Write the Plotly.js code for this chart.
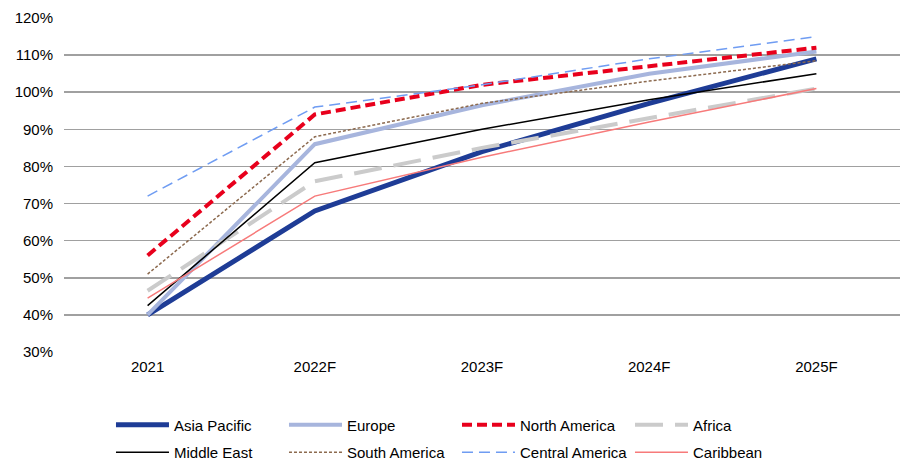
<!DOCTYPE html>
<html><head><meta charset="utf-8">
<script src="https://cdn.plot.ly/plotly-3.0.1.min.js"></script>
<style>html,body{margin:0;padding:0;background:#fff}#chart{width:909px;height:465px}</style>
</head><body><div id="chart"></div>
<script>
const categories = ["2021", "2022F", "2023F", "2024F", "2025F"];
const asiaPacific = [40, 68, 84, 97, 109];
const europe = [40, 86, 96.5, 105, 111];
const northAmerica = [56, 94, 102, 107, 112];
const africa = [46.5, 76, 85, 93, 101];
const middleEast = [42.5, 81, 90, 98, 105];
const southAmerica = [51, 88, 97, 103, 108.5];
const centralAmerica = [72, 96, 102, 109, 115];
const caribbean = [44.5, 72, 82.5, 92, 101];
const yTicks = [30, 40, 50, 60, 70, 80, 90, 100, 110, 120];
const yTickText = yTicks.map(v => v + "%");

const series = [
  {name: "Asia Pacific", y: asiaPacific, color: "#1e3c96", width: 5, dash: "solid", legend: "legend"},
  {name: "Europe", y: europe, color: "#a7b5dd", width: 4, dash: "solid", legend: "legend"},
  {name: "North America", y: northAmerica, color: "#e8001c", width: 4, dash: "10px,5px", legend: "legend"},
  {name: "Africa", y: africa, color: "#cbcbcb", width: 4, dash: "28px,12px", legend: "legend"},
  {name: "Middle East", y: middleEast, color: "#000000", width: 1.5, dash: "solid", legend: "legend2"},
  {name: "South America", y: southAmerica, color: "#8c6a4f", width: 1.5, dash: "3px,2px", legend: "legend2"},
  {name: "Central America", y: centralAmerica, color: "#6f9cf2", width: 1.5, dash: "11px,6px", legend: "legend2"},
  {name: "Caribbean", y: caribbean, color: "#f77a7a", width: 1.5, dash: "solid", legend: "legend2"}
];

const data = series.map(s => ({
  type: "scatter", mode: "lines", name: s.name, x: categories, y: s.y, legend: s.legend,
  line: {color: s.color, width: s.width, dash: s.dash}
}));

const legendBase = {orientation: "h", x: 0.0562, xanchor: "left", yanchor: "middle", yref: "container", entrywidth: 105, entrywidthmode: "pixels", font: {size: 15}, traceorder: "normal", itemwidth: 53};

const layout = {
  width: 909, height: 465,
  margin: {l: 64, r: 9, t: 18, b: 113},
  paper_bgcolor: "#fff", plot_bgcolor: "#fff",
  font: {family: "Liberation Sans, Arial, sans-serif", size: 15, color: "#000"},
  xaxis: {type: "category", range: [-0.5, 4.5], automargin: false, showgrid: false, zeroline: false, showline: false, ticks: "", tickfont: {size: 15}, ticklabelstandoff: 4},
  yaxis: {range: [30, 120], automargin: false, tickvals: yTicks, ticktext: yTickText, showgrid: true, gridcolor: "#a0a0a0", gridwidth: 1.5, zeroline: false, showline: false, ticks: "", tickfont: {size: 15}, ticklabelstandoff: 10},
  legend: Object.assign({}, legendBase, {y: 0.086}),
  legend2: Object.assign({}, legendBase, {y: 0.027}),
  showlegend: true
};
Plotly.newPlot("chart", data, layout, {displayModeBar: false, staticPlot: true});
</script></body></html>
